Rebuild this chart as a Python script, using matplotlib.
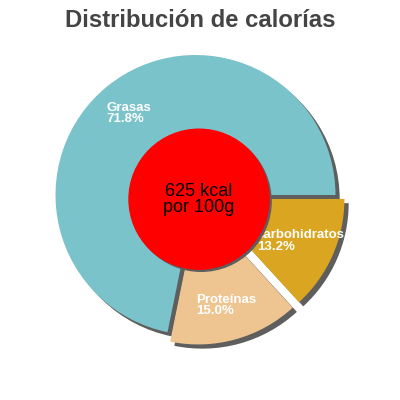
import matplotlib.pyplot as plt
from matplotlib.patches import Circle

plt.rcParams['font.family'] = ['Liberation Sans', 'DejaVu Sans']

# pie data, drawn clockwise from 3 o'clock
categories = ['carbohidratos', 'Proteínas', 'Grasas']
values = [13.2, 15.0, 71.8]
colors = ['#daa520', '#eec591', '#7ac3cb']
explode = [0.07, 0.07, 0.0]
title = 'Distribución de calorías'
center_text = '625 kcal\npor 100g'

fig = plt.figure(figsize=(4, 4), dpi=100)
ax = fig.add_axes([0, 0, 1, 1])

labels = [f'{c}\n{v:.1f}%' for c, v in zip(categories, values)]

# shadow pie (offset down-right)
ax.pie(values, explode=explode, colors=['#5e5e5e'] * 3, startangle=0,
       counterclock=False, center=(0.03, -0.03), radius=1.0,
       wedgeprops={'linewidth': 0})
wedges, texts = ax.pie(values, explode=explode, colors=colors, labels=labels,
                       startangle=0, counterclock=False, radius=1.0,
                       labeldistance=0.75,
                       wedgeprops={'linewidth': 0},
                       textprops={'color': 'white', 'fontsize': 9.5,
                                  'fontweight': 'bold'})
for t in texts:
    t.set_ha('center')
    t.set_va('center')
    t.set_multialignment('left')
    t.set_linespacing(0.95)

ax.add_patch(Circle((0.04, -0.045), 0.5, color='#5e5e5e', zorder=3))
ax.add_patch(Circle((0.025, -0.03), 0.5, color='#ff0000', zorder=4))
ax.text(0.025, -0.03, center_text, ha='center', va='center', fontsize=13,
        color='black', zorder=5, linespacing=0.95)

ax.set_xlim(-195.5 / 140, 204.5 / 140)
ax.set_ylim(-205 / 140, 195 / 140)
ax.set_aspect('equal')
ax.axis('off')

fig.text(0.5, 0.948, title, ha='center', va='center', fontsize=17.2,
         fontweight='bold', color='#444444')

fig.savefig('out.png', dpi=100)
